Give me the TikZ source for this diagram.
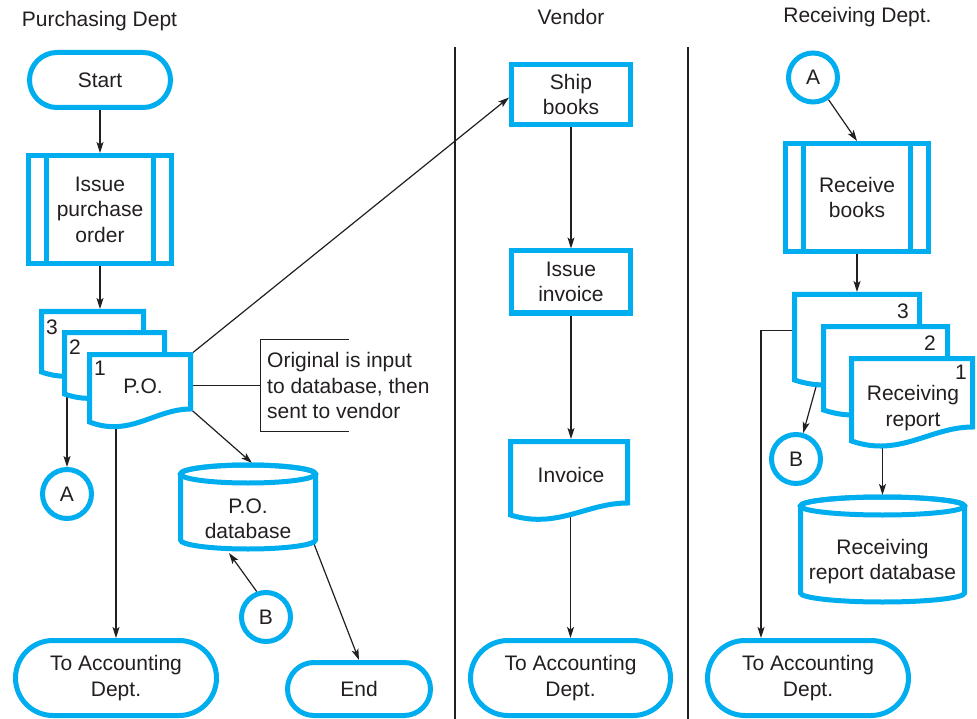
\documentclass[tikz,border=0pt]{standalone}
\usepackage{fontspec}
\setmainfont{Liberation Sans}
\usetikzlibrary{shapes.misc,arrows.meta,calc}
\definecolor{flowcyan}{HTML}{00AEEF}
\definecolor{ink}{HTML}{231F20}
\pgfdeclarelayer{back}
\pgfsetlayers{back,main}

\tikzset{
  every node/.style={font=\fontsize{21}{25.5}\selectfont, text=ink},
  flow/.style={draw=flowcyan, line width=5pt, fill=white},
  terminal/.style={flow, rounded rectangle, align=center, inner sep=0pt},
  procbox/.style={flow, rectangle, align=center, inner sep=0pt},
  predef/.style={procbox, path picture={
     \draw[flowcyan, line width=5pt]
       ([xshift=18pt]path picture bounding box.north west) -- ([xshift=18pt]path picture bounding box.south west)
       ([xshift=-18pt]path picture bounding box.north east) -- ([xshift=-18pt]path picture bounding box.south east);}},
  connector/.style={flow, circle, minimum size=49pt, inner sep=0pt},
  docnode/.style={rectangle, draw=none, outer sep=0pt, inner sep=0pt},
  cylnode/.style={rectangle, draw=none, outer sep=0pt, inner sep=0pt},
  arr/.style={draw=ink, line width=1.2pt, -{Stealth[length=11pt,width=7pt,inset=2.5pt]}},
  plain/.style={draw=ink, line width=1.2pt},
  lane/.style={draw=ink, line width=2.6pt},
  heading/.style={anchor=base},
  notenode/.style={draw=none, align=left, anchor=west, inner xsep=6.5pt, inner ysep=0pt, minimum height=91pt},
}

% document symbol: straight top and sides, wavy bottom (#1 node, #2 width, #3 drop of left end)
\newcommand\docout[3]{%
  \draw[flow] ([yshift=-#3pt]#1.south west) -- (#1.north west) -- (#1.north east) -- (#1.south east)
    .. controls ($(#1.south west)+(0.65*#2,0)$) and ($(#1.south west)+(0.4*#2,2.2*#3)$)
    .. ([yshift=-#3pt]#1.south west) -- cycle;
}
% database cylinder (#1 node, #2 half width, #3 radius of the end ellipses)
\newcommand\cylout[3]{%
  \draw[flow] ([yshift=#3]#1.north west) -- ([yshift=#3]#1.south west)
     arc[start angle=180, end angle=360, x radius=#2, y radius=#3]
     -- ([yshift=#3]#1.north east)
     arc[start angle=0, end angle=180, x radius=#2, y radius=#3] -- cycle;
  \draw[flow, fill=none] ([yshift=#3]#1.north) ellipse[x radius=#2, y radius=#3];
}

\begin{document}
\begin{tikzpicture}[x=1pt,y=-1pt]
\useasboundingbox (0,0) rectangle (977,719);

% lane headings
\node[heading] (h1) at (99.5,26.5) {Purchasing Dept};
\node[heading] (h2) at (571,25) {Vendor};
\node[heading] (h3) at (857.5,23) {Receiving Dept.};

% lane separators
\coordinate (s1t) at (455,47);
\coordinate (s1b) at (455,719);
\coordinate (s2t) at (688,47);
\coordinate (s2b) at (688,719);
\draw[lane] (s1t) -- (s1b);
\draw[lane] (s2t) -- (s2b);

% ---------- Purchasing Dept ----------
\node[terminal, minimum width=141pt, minimum height=55pt] (start) at (100,80) {Start};
\node[predef, minimum width=143pt, minimum height=108pt] (ipo) at (100,209.5) {Issue\\purchase\\order};

\node[docnode, minimum width=102pt, minimum height=48.5pt] (pd3) at (92.5,335.75) {};
\node[docnode, minimum width=100pt, minimum height=49.5pt] (pd2) at (114.5,357.25) {};
\node[docnode, minimum width=101pt, minimum height=54.5pt] (pd1) at (140,381.75) {};
\docout{pd3}{102}{12}
\docout{pd2}{100}{12}
\docout{pd1}{101}{13}
\node (n3) at (52,327) {3};
\node (n2) at (75,347) {2};
\node (n1) at (100,368) {1};
\node (pot) at (143,386) {P.O.};

\node[notenode] (note) at (260.5,385.5) {Original is input\\to database, then\\sent to vendor};
\draw[plain] ([xshift=88pt]note.north west) -- (note.north west) -- (note.south west) -- ([xshift=88pt]note.south west);

\node[cylnode, minimum width=135pt, minimum height=66pt] (pdb) at (248,516) {};
\cylout{pdb}{67.5pt}{9pt}
\node[align=center] (pdbt) at ([yshift=-3pt]pdb.center) {P.O.\\database};

\node[connector] (ca1) at (67,494) {A};
\node[connector] (cb1) at (266,617) {B};
\node[terminal, minimum width=201pt, minimum height=75pt] (acc1) at (116,678) {To Accounting\\Dept.};
\node[terminal, minimum width=143pt, minimum height=53pt] (end) at (359,689) {End};

% ---------- Vendor ----------
\node[procbox, minimum width=119pt, minimum height=60pt] (ship) at (571,94.5) {Ship\\books};
\node[procbox, minimum width=119pt, minimum height=62pt] (inv) at (571,282) {Issue\\invoice};
\node[docnode, minimum width=117pt, minimum height=61.5pt] (invd) at (569,472.25) {};
\docout{invd}{117}{12}
\node (invt) at (571,475) {Invoice};
\node[terminal, minimum width=200pt, minimum height=75pt] (acc2) at (570.5,678) {To Accounting\\Dept.};

% ---------- Receiving Dept. ----------
\node[connector] (ca2) at (813,77.5) {A};
\node[predef, minimum width=143pt, minimum height=108pt] (rb) at (857,197.5) {Receive\\books};

\node[docnode, minimum width=125pt, minimum height=71.5pt] (rd3) at (857,330.25) {};
\node[docnode, minimum width=124pt, minimum height=69.5pt] (rd2) at (885.5,361.25) {};
\node[docnode, minimum width=121pt, minimum height=68.5pt] (rd1) at (912,392.75) {};
\docout{rd3}{125}{14}
\docout{rd2}{124}{14}
\docout{rd1}{121}{14}
\node (r3) at (903,311) {3};
\node (r2) at (930,343) {2};
\node (r1) at (961,372) {1};
\node[align=center] (rrt) at (913,408) {Receiving\\report};

\node[connector] (cb2) at (796,459) {B};
\node[cylnode, minimum width=164pt, minimum height=87pt] (rdb) at (882.5,558.5) {};
\cylout{rdb}{82pt}{9pt}
\node[align=center] (rdbt) at ([yshift=-3pt]rdb.center) {Receiving\\report database};
\node[terminal, minimum width=201pt, minimum height=75pt] (acc3) at (808,678) {To Accounting\\Dept.};

% ---------- flow lines (behind the symbols) ----------
\begin{pgfonlayer}{back}
  \draw[arr] (start) -- (ipo);
  \draw[arr, shorten >=2.5pt] (ipo.south) -- (ipo.south |- pd3.north);
  \draw[arr] (pd1.north east) -- ([yshift=-3pt]ship.west);
  \draw[plain] (pd1.east |- note.west) -- (note.west);
  \draw[arr] (pd1.south east) -- ([xshift=4pt,yshift=20pt]pdb.north);
  \draw[arr] (acc1.north |- pd1.south) -- (acc1.north);
  \draw[arr] (ca1.north |- pd3.south) -- (ca1.north);
  \draw[arr] (cb1.110) -- ([xshift=-19pt,yshift=-4pt]pdb.south);
  \draw[arr] ([xshift=-3pt,yshift=9pt]pdb.south east) -- (end.north);

  \draw[arr] (ship) -- (inv);
  \draw[arr, shorten >=2.5pt] (inv.south) -- (inv.south |- invd.north);
  \draw[arr] (acc2.north |- invd.south) -- (acc2.north);

  \draw[arr] (ca2.-55) -- (rb.north);
  \draw[arr, shorten >=2.5pt] (rb.south) -- (rb.south |- rd3.north);
  \draw[arr] (rd3.west) -| ($(acc3.north)+(-47,0)$);
  \draw[arr] ([xshift=24.5pt,yshift=-10pt]rd3.south west) -- (cb2);
  \draw[arr] (rdb.north |- rd1.south) -- ([yshift=20pt]rdb.north);
\end{pgfonlayer}
\end{tikzpicture}
\end{document}
